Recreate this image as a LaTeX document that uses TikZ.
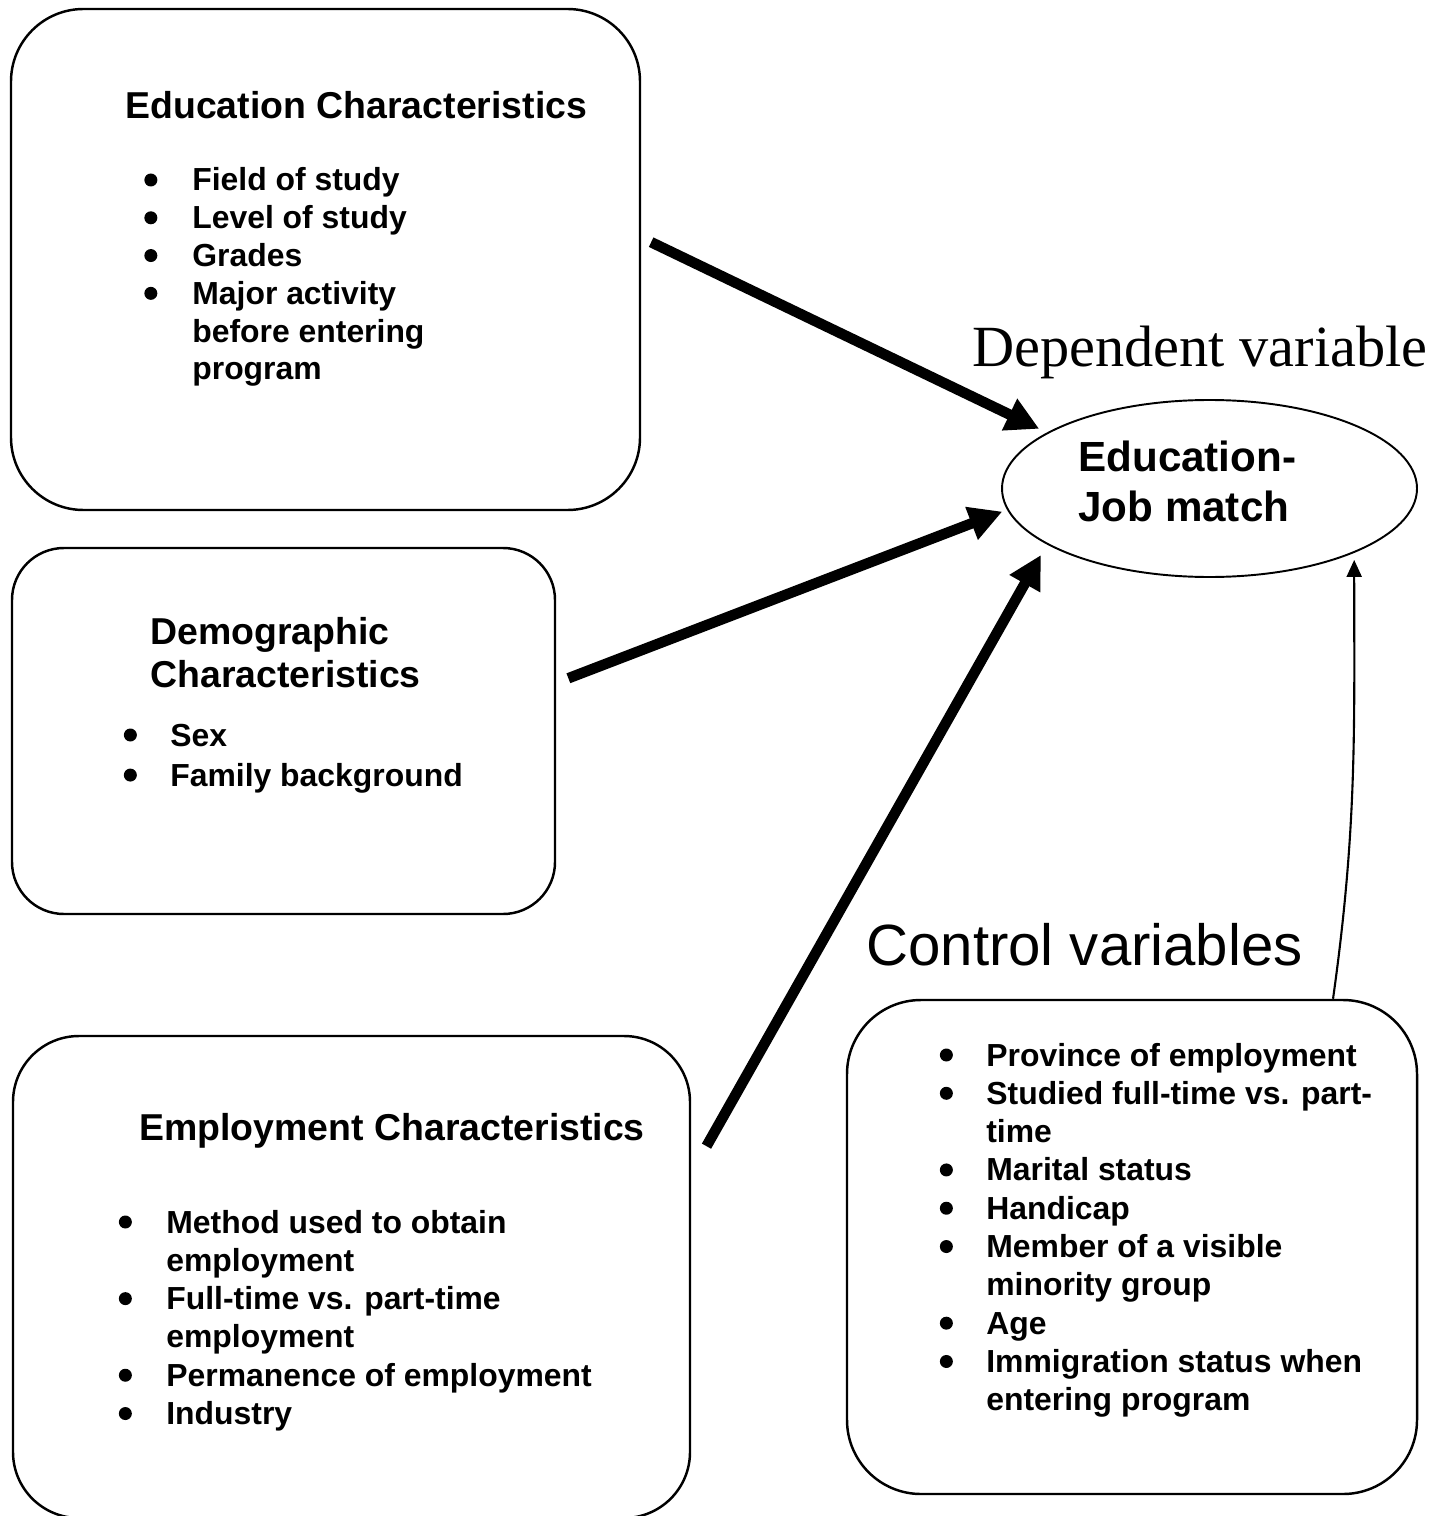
\documentclass[tikz,border=0pt]{standalone}
\usepackage{fontspec}
\setmainfont{Liberation Serif}
\setsansfont{Liberation Sans}
\usetikzlibrary{positioning, arrows.meta, shapes.geometric}
\newcommand{\bul}{\tikz[baseline=0pt]\fill (0.12cm,0.22cm) circle (0.13cm);}

\begin{document}
\begin{tikzpicture}[
  box/.style={draw, line width=1.4pt, inner sep=0pt},
  head/.style={font=\sffamily\bfseries\fontsize{21.3}{25}\selectfont, inner sep=0pt, anchor=base west},
  items/.style={font=\sffamily\bfseries\fontsize{18.15}{21.8}\selectfont, inner sep=0pt, anchor=base west},
  title/.style={font=\fontsize{33.2}{38}\selectfont, inner sep=0pt, anchor=base west},
  heavy/.style={-{Triangle[length=0.66cm, width=0.66cm]}, line width=6pt},
  light/.style={-{Triangle[length=0.34cm, width=0.3cm]}, line width=1.2pt}
]
  \useasboundingbox (0,0) rectangle (28.98,-30.32);

  % Education box
  \node[box, rounded corners=1.45cm, minimum width=12.58cm, minimum height=10.02cm] (edu) at (6.51,-5.19) {};
  \node[head] (eduhead) at (2.5,-2.38) {\begin{tabular}[t]{@{}l@{}}Education Characteristics\end{tabular}};
  \node[items, font=\sffamily\bfseries\fontsize{18.15}{21.5}\selectfont] (edulist) at (2.88,-3.82) {\begin{tabular}[t]{@{}p{0.96cm}@{}l@{}}
    \bul & Field of study\\
    \bul & Level of study\\
    \bul & Grades\\
    \bul & Major activity\\
         & before entering\\
         & program
  \end{tabular}};

  % Demographic box
  \node[box, rounded corners=1.04cm, minimum width=10.86cm, minimum height=7.32cm] (demo) at (5.67,-14.62) {};
  \node[head] (demohead) at (3.0,-12.88) {\begin{tabular}[t]{@{}l@{}}Demographic\\Characteristics\end{tabular}};
  \node[items, font=\sffamily\bfseries\fontsize{18.15}{22.8}\selectfont] (demolist) at (2.47,-14.92) {\begin{tabular}[t]{@{}p{0.93cm}@{}l@{}}
    \bul & Sex\\
    \bul & Family background
  \end{tabular}};

  % Employment box
  \node[box, rounded corners=1.32cm, minimum width=13.54cm, minimum height=9.64cm] (emp) at (7.03,-25.54) {};
  \node[head] (emphead) at (2.78,-22.8) {\begin{tabular}[t]{@{}l@{}}Employment Characteristics\end{tabular}};
  \node[items] (emplist) at (2.37,-24.66) {\begin{tabular}[t]{@{}p{0.95cm}@{}l@{}}
    \bul & Method used to obtain\\
         & employment\\
    \bul & Full-time vs. part-time\\
         & employment\\
    \bul & Permanence of employment\\
    \bul & Industry
  \end{tabular}};

  % Control box
  \node[box, rounded corners=1.48cm, minimum width=11.4cm, minimum height=9.88cm] (ctrl) at (22.64,-24.94) {};
  \node[title, font=\sffamily\fontsize{33.1}{38}\selectfont] (ctrlhead) at (17.32,-19.3) {Control variables};
  \node[items] (ctrllist) at (18.79,-21.32) {\begin{tabular}[t]{@{}p{0.93cm}@{}l@{}}
    \bul & Province of employment\\
    \bul & Studied full-time vs. part-\\
         & time\\
    \bul & Marital status\\
    \bul & Handicap\\
    \bul & Member of a visible\\
         & minority group\\
    \bul & Age\\
    \bul & Immigration status when\\
         & entering program
  \end{tabular}};

  % Dependent variable
  \node[title] (dephead) at (19.44,-7.32) {Dependent variable};
  \node[draw, ellipse, line width=1.1pt, inner sep=0pt, minimum width=8.3cm, minimum height=3.54cm] (match) at (24.19,-9.77) {};
  \node[font=\sffamily\bfseries\fontsize{24}{28.5}\selectfont, inner sep=0pt, anchor=base west] (matchtext) at (21.56,-9.42)
    {\begin{tabular}[t]{@{}l@{}}Education-\\Job match\end{tabular}};

  % Arrows
  \draw[heavy, shorten <=0.22cm, shorten >=0.17cm] (edu.4.5) -- (match.161.6);
  \draw[heavy, shorten <=0.26cm, shorten >=0.1cm] (demo.10.7) -- (match.186.1);
  \draw[heavy, shorten <=0.62cm, shorten >=0.24cm] (emp.17.2) -- (match.199.3);
  \draw[light, shorten >=0.14cm] (ctrl.51.4) to[out=82, in=-90] (match.336.6);
\end{tikzpicture}
\end{document}
